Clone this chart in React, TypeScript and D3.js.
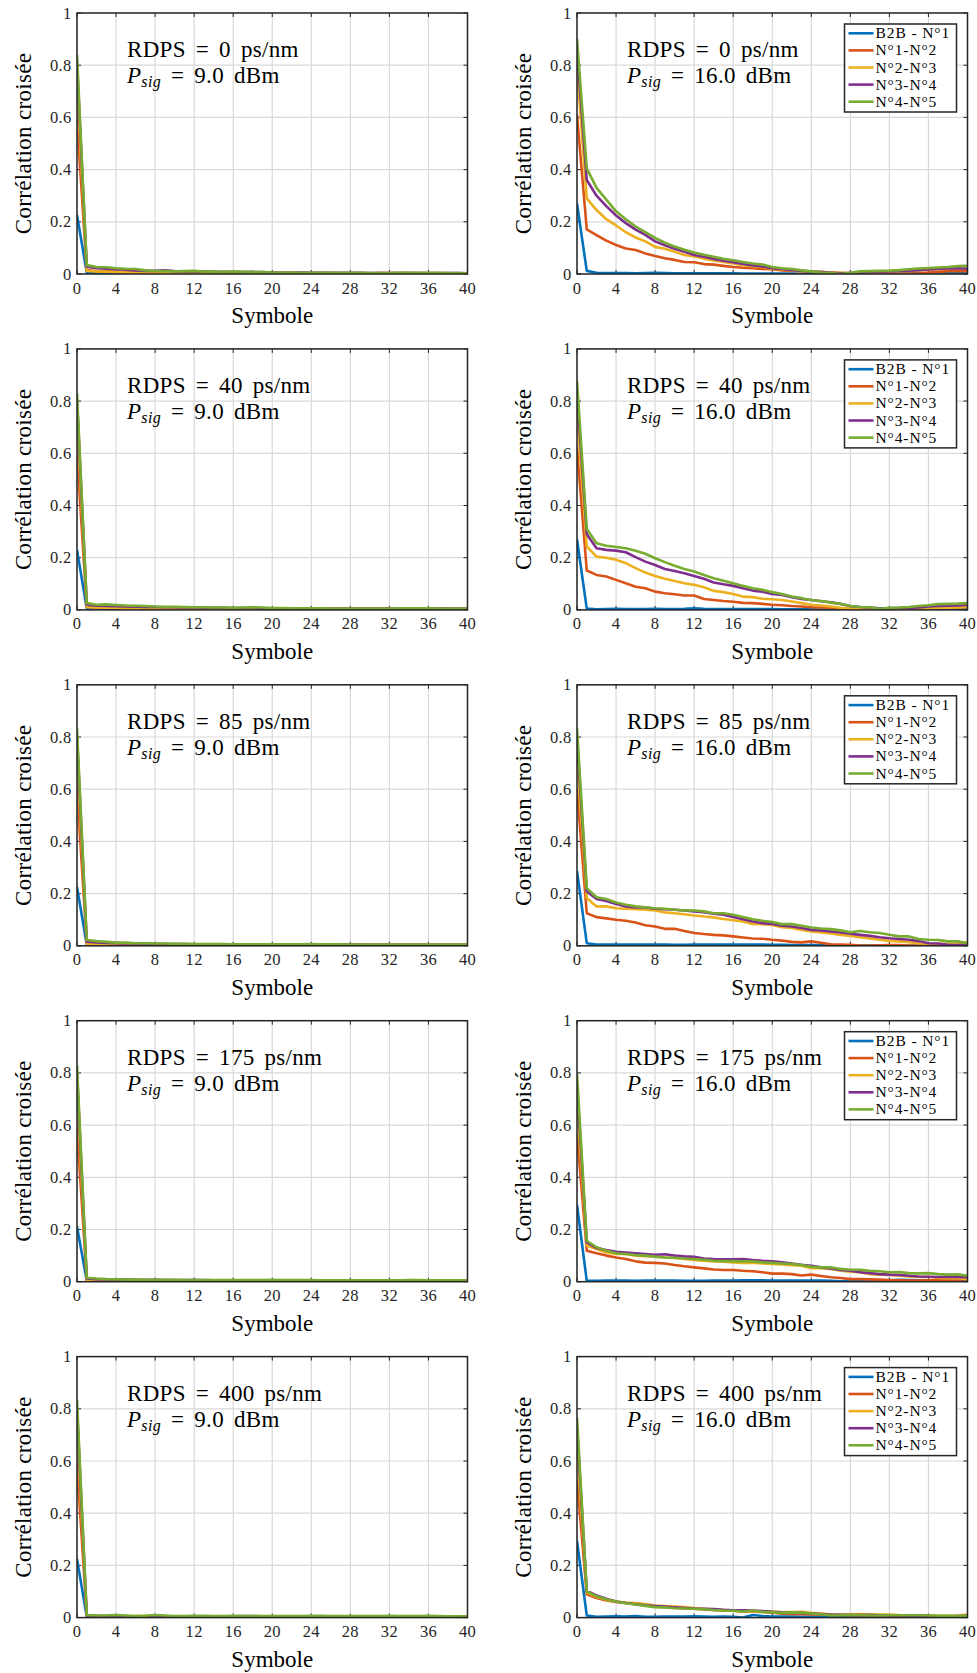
import React from "react";
import * as d3 from "d3";

// ---- categories / ticks ----
const symbols: number[] = d3.range(0, 41);
const xTicks = [0, 4, 8, 12, 16, 20, 24, 28, 32, 36, 40];
const yTicks = [0, 0.2, 0.4, 0.6, 0.8, 1];
const yTickLabels = ["0", "0.2", "0.4", "0.6", "0.8", "1"];
const rdpsValues = [0, 40, 85, 175, 400];
const psigValues = ["9.0", "16.0"];
const seriesNames = ["B2B - N°1", "N°1-N°2", "N°2-N°3", "N°3-N°4", "N°4-N°5"];
const seriesColors = ["#0072BD", "#D95319", "#EDB120", "#7E2F8E", "#77AC30"];

// ---- cross-correlation values (x1000), series order: B2B-N1, N1-N2, N2-N3, N3-N4, N4-N5 ----
// RDPS = 0 ps/nm, Psig = 9.0 dBm
const corr_0_9 = [
  [226,5,4,3,3,2,2,2,2,3,2,2,2,2,2,2,2,2,2,2,3,3,3,3,2,2,2,2,2,2,1,1,1,1,1,1,1,1,1,1,1],
  [590,15,10,10,9,7,6,6,5,5,4,3,4,4,4,4,3,3,3,3,3,3,3,4,4,4,4,3,3,3,3,4,4,4,4,3,3,3,3,3,3],
  [737,12,10,9,7,6,5,5,6,5,4,4,4,4,5,6,7,5,4,3,3,3,3,3,3,3,3,3,2,2,2,2,2,3,3,3,3,3,3,3,2],
  [810,28,22,20,18,16,14,12,12,14,11,10,10,9,8,8,8,7,8,7,6,6,6,6,5,5,5,5,5,5,4,4,4,4,4,4,4,4,4,4,3],
  [839,34,27,26,22,20,19,14,12,11,10,11,12,9,9,8,9,8,7,7,6,6,6,5,5,5,5,5,5,5,4,4,4,5,5,5,5,5,4,4,3],
];
// RDPS = 0 ps/nm, Psig = 16.0 dBm
const corr_0_16 = [
  [270,12,5,4,4,4,3,4,5,4,3,3,3,3,3,3,3,2,2,2,2,2,2,1,1,1,0,0,1,1,2,2,2,2,3,3,3,3,3,3,3],
  [610,171,149,128,111,98,92,79,69,60,54,46,45,38,36,31,27,24,22,19,18,14,12,11,9,8,6,4,1,0,1,0,0,0,2,3,6,8,11,12,11],
  [788,290,245,210,186,160,140,125,104,97,85,73,67,59,52,46,40,34,30,27,20,17,14,11,9,7,6,5,4,5,6,7,8,10,12,14,16,18,20,21,20],
  [860,360,300,260,224,195,170,150,125,110,97,85,73,66,58,51,45,38,33,29,22,19,15,12,9,7,5,3,4,5,7,9,10,11,13,15,17,19,21,22,20],
  [900,405,330,285,240,210,182,160,138,120,105,93,82,74,66,58,53,46,40,36,27,22,19,14,10,6,4,0,5,10,11,12,13,15,18,21,23,25,27,30,31],
];
// RDPS = 40 ps/nm, Psig = 9.0 dBm
const corr_40_9 = [
  [230,5,3,3,3,2,2,2,2,2,2,2,2,2,2,2,2,2,2,2,2,2,2,2,2,2,2,2,3,3,3,3,3,3,3,4,5,5,4,3,3],
  [600,12,8,8,7,6,6,5,5,4,4,4,4,4,4,4,3,3,3,3,3,3,3,3,3,3,3,4,4,3,3,3,3,3,3,3,3,3,3,3,3],
  [740,10,9,8,7,6,6,6,5,5,5,5,5,4,4,4,4,4,4,4,3,3,3,3,3,3,3,3,3,3,3,3,3,3,3,3,3,3,3,3,3],
  [805,20,16,15,14,13,12,11,11,10,10,9,9,8,8,8,7,7,7,6,6,6,6,5,5,5,5,5,5,5,5,5,5,5,5,5,5,5,5,5,4],
  [830,26,20,21,19,17,16,15,13,12,12,11,10,10,9,9,8,9,10,9,7,7,6,6,6,6,5,5,5,5,5,5,5,6,6,6,6,5,5,5,4],
];
// RDPS = 40 ps/nm, Psig = 16.0 dBm
const corr_40_16 = [
  [270,5,2,3,4,3,3,3,4,3,3,4,6,4,3,3,3,3,3,3,3,2,2,2,2,1,1,1,1,2,3,4,5,3,2,2,3,2,3,4,5],
  [623,151,134,128,115,102,89,83,70,64,60,55,55,42,38,34,31,27,26,23,20,18,15,13,10,9,8,5,4,3,2,2,3,4,5,6,8,8,9,9,10],
  [757,243,204,200,192,179,160,143,130,119,111,102,96,87,73,68,61,51,49,43,41,38,32,26,20,17,13,8,4,3,2,1,2,3,4,5,6,7,8,9,11],
  [834,290,236,230,227,221,202,185,172,157,149,140,130,119,105,98,92,83,74,70,61,57,49,42,38,33,29,23,15,11,9,6,6,7,7,9,13,15,16,17,19],
  [877,310,255,246,241,236,227,215,198,183,169,157,147,134,121,112,102,92,83,77,68,61,51,45,38,34,28,23,15,11,10,4,8,9,11,15,18,22,23,24,26],
];
// RDPS = 85 ps/nm, Psig = 9.0 dBm
const corr_85_9 = [
  [225,4,2,2,2,2,2,3,2,2,2,2,2,2,2,2,2,2,3,2,2,2,2,2,2,2,2,2,2,2,2,2,2,2,2,2,2,2,2,2,2],
  [600,10,6,5,5,4,4,4,4,4,3,3,3,3,3,3,3,3,3,3,3,3,3,3,3,3,3,3,3,3,3,3,3,3,3,3,3,3,3,3,3],
  [735,8,6,5,5,5,4,4,4,4,4,4,3,3,3,3,3,3,3,3,3,3,3,3,3,3,3,3,3,3,3,3,3,3,3,3,3,3,3,3,3],
  [800,16,13,11,10,9,9,8,8,7,7,7,6,6,6,6,5,5,5,5,5,5,5,5,6,5,5,5,5,5,4,4,4,4,4,4,4,4,4,4,4],
  [832,22,18,15,12,12,10,10,9,9,8,8,7,7,7,7,6,6,6,6,6,6,6,6,7,6,6,6,5,5,5,5,5,5,5,5,5,5,5,5,5],
];
// RDPS = 85 ps/nm, Psig = 16.0 dBm
const corr_85_16 = [
  [287,10,5,5,5,5,5,5,5,5,4,4,5,5,5,5,5,5,5,5,4,4,3,3,3,3,2,2,1,1,1,1,1,1,0,0,0,0,1,1,1],
  [600,125,110,105,100,96,89,79,74,65,65,57,49,45,42,40,36,32,28,27,23,20,15,13,17,12,6,5,4,1,1,2,3,3,1,1,2,3,3,4,8],
  [719,183,151,151,144,142,140,138,135,128,125,121,116,112,109,103,98,93,84,83,80,71,68,61,55,51,47,42,38,33,28,23,19,17,14,10,8,8,7,8,14],
  [796,208,179,172,160,151,147,147,142,140,138,135,132,129,123,119,110,102,93,87,84,77,74,68,61,59,55,51,46,42,38,33,29,26,23,18,10,9,4,3,5],
  [834,221,186,179,166,157,151,148,144,142,138,135,135,132,125,125,119,110,102,96,91,83,83,77,70,66,64,59,52,57,52,49,42,36,36,26,23,22,17,17,10],
];
// RDPS = 175 ps/nm, Psig = 9.0 dBm
const corr_175_9 = [
  [212,3,2,2,2,2,2,2,2,2,2,2,2,2,2,2,2,2,2,3,2,2,2,2,2,2,2,2,2,2,2,2,2,2,2,2,2,2,2,2,2],
  [590,8,6,5,4,4,4,4,4,3,3,3,3,3,3,3,3,3,3,3,3,3,3,3,3,3,3,3,3,3,3,3,3,3,3,3,3,3,3,3,3],
  [735,6,5,5,4,4,4,4,4,4,3,3,3,3,3,3,3,3,3,3,3,3,3,3,3,3,3,3,3,3,3,3,3,3,3,3,3,3,3,3,3],
  [800,12,10,9,8,8,7,7,7,6,6,6,6,6,5,5,5,5,5,5,5,5,5,5,5,5,5,5,4,4,4,4,4,4,4,4,4,5,5,4,4],
  [830,15,12,10,9,8,8,7,7,7,7,6,6,6,6,6,6,6,6,6,7,6,6,6,6,5,5,5,5,5,5,5,5,5,6,6,5,5,5,5,5],
];
// RDPS = 175 ps/nm, Psig = 16.0 dBm
const corr_175_16 = [
  [295,3,3,4,4,4,3,4,4,4,4,3,3,3,4,4,4,5,5,5,4,4,4,4,4,4,3,2,2,2,2,3,5,7,6,5,3,2,2,3,3],
  [566,119,109,100,93,87,78,73,72,70,64,59,55,51,47,45,45,42,40,36,31,31,29,24,27,22,17,14,10,10,9,8,6,5,4,4,5,6,8,8,10],
  [687,138,125,112,106,106,100,98,96,93,91,87,83,80,78,77,74,72,73,70,68,66,63,61,52,52,49,42,38,36,29,27,26,23,20,18,19,14,13,13,10],
  [757,151,129,121,115,112,109,106,103,105,100,97,95,89,87,86,86,87,83,80,78,74,70,65,61,55,51,45,42,36,33,29,27,26,23,20,19,18,19,18,17],
  [796,157,132,119,109,106,102,100,96,93,92,89,87,84,80,79,79,78,78,74,72,70,68,64,57,55,55,49,46,46,42,40,36,37,33,32,33,29,27,28,23],
];
// RDPS = 400 ps/nm, Psig = 9.0 dBm
const corr_400_9 = [
  [225,3,2,3,2,2,2,3,2,2,2,2,2,2,3,4,3,2,2,2,2,2,2,2,2,2,2,2,2,1,1,2,2,2,2,2,2,2,2,2,2],
  [590,6,5,5,4,4,4,4,3,3,3,3,2,2,3,3,3,3,3,3,3,3,3,3,3,3,3,3,3,3,3,3,3,3,3,3,3,3,3,3,3],
  [730,6,5,5,5,4,6,7,5,4,4,3,3,3,3,3,3,3,3,3,3,3,3,3,3,3,3,3,3,3,3,3,3,3,3,3,3,3,3,3,3],
  [800,8,7,6,8,6,5,5,5,5,4,4,4,4,4,4,5,6,6,5,4,4,4,4,4,4,4,4,4,4,4,4,4,4,4,4,4,4,4,4,4],
  [835,10,8,8,10,8,6,7,10,8,6,6,7,7,6,6,7,6,6,6,6,6,6,6,7,7,6,6,6,6,6,6,7,6,6,6,7,6,5,5,5],
];
// RDPS = 400 ps/nm, Psig = 16.0 dBm
const corr_400_16 = [
  [294,8,3,4,5,4,6,3,3,4,4,4,5,4,3,4,3,0,10,6,4,4,4,3,3,3,2,2,3,3,3,2,2,3,3,3,4,3,2,2,2],
  [530,89,75,66,60,56,52,47,42,41,38,36,34,31,29,27,26,24,23,22,19,15,14,13,12,12,11,10,9,9,9,9,8,8,7,6,5,5,4,3,4],
  [651,96,80,68,62,58,56,52,46,44,42,40,37,34,31,29,27,25,24,24,23,20,21,22,18,16,13,12,13,14,13,12,12,10,9,8,8,7,7,8,12],
  [734,102,85,72,62,56,51,47,44,42,39,37,35,34,33,30,28,28,27,25,22,20,19,18,16,14,11,11,10,10,10,9,9,8,7,7,6,5,5,6,6],
  [766,100,82,70,62,55,50,45,40,39,36,35,34,32,29,27,26,23,27,22,20,18,20,19,16,13,8,9,10,9,8,8,9,9,9,9,8,7,7,6,7],
];

const panelData = [
  [corr_0_9, corr_0_16],
  [corr_40_9, corr_40_16],
  [corr_85_9, corr_85_16],
  [corr_175_9, corr_175_16],
  [corr_400_9, corr_400_16],
];

// ---- layout ----
const FONT = "Liberation Serif";
const COL_LEFT = [77, 577];
const PLOT_W = 390.5;
const ROW_TOP0 = 13;
const ROW_STEP = 335.9;
const PLOT_H = 261;
const AXIS_COLOR = "#262626";
const GRID_COLOR = "#d9d9d9";
const LINE_W = 2.6;
const TICK_LEN = 4;

type PanelProps = {
  id: string;
  left: number;
  top: number;
  rdps: number;
  psig: string;
  data: number[][];
  showLegend: boolean;
};

function Panel({ id, left, top, rdps, psig, data, showLegend }: PanelProps) {
  const x = d3.scaleLinear().domain([0, 40]).range([left, left + PLOT_W]);
  const y = d3.scaleLinear().domain([0, 1]).range([top + PLOT_H, top]);
  const line = d3
    .line<number>()
    .x((_, i) => x(symbols[i]))
    .y((v) => y(v / 1000));
  const right = left + PLOT_W;
  const bottom = top + PLOT_H;

  const legW = 112;
  const legH = 88;
  const legX = right - 11 - legW;
  const legY = top + 11;

  return (
    <g>
      <defs>
        <clipPath id={id}>
          <rect x={left} y={top} width={PLOT_W} height={PLOT_H} />
        </clipPath>
      </defs>
      <rect x={left} y={top} width={PLOT_W} height={PLOT_H} fill="#fff" />
      {/* grid */}
      {xTicks.map((t) => (
        <line key={"gx" + t} x1={x(t)} x2={x(t)} y1={top} y2={bottom} stroke={GRID_COLOR} strokeWidth={1.2} />
      ))}
      {yTicks.map((t) => (
        <line key={"gy" + t} x1={left} x2={right} y1={y(t)} y2={y(t)} stroke={GRID_COLOR} strokeWidth={1.2} />
      ))}
      {/* ticks */}
      {xTicks.map((t) => (
        <g key={"tx" + t}>
          <line x1={x(t)} x2={x(t)} y1={bottom} y2={bottom - TICK_LEN} stroke={AXIS_COLOR} strokeWidth={1} />
          <line x1={x(t)} x2={x(t)} y1={top} y2={top + TICK_LEN} stroke={AXIS_COLOR} strokeWidth={1} />
        </g>
      ))}
      {yTicks.map((t) => (
        <g key={"ty" + t}>
          <line x1={left} x2={left + TICK_LEN} y1={y(t)} y2={y(t)} stroke={AXIS_COLOR} strokeWidth={1} />
          <line x1={right} x2={right - TICK_LEN} y1={y(t)} y2={y(t)} stroke={AXIS_COLOR} strokeWidth={1} />
        </g>
      ))}
      {/* data lines */}
      <g clipPath={`url(#${id})`}>
        {data.map((s, i) => (
          <path
            key={"s" + i}
            d={line(s) || ""}
            fill="none"
            stroke={seriesColors[i]}
            strokeWidth={LINE_W}
            strokeLinejoin="round"
          />
        ))}
      </g>
      {/* frame */}
      <rect x={left} y={top} width={PLOT_W} height={PLOT_H} fill="none" stroke={AXIS_COLOR} strokeWidth={1.5} />
      {/* tick labels */}
      {xTicks.map((t) => (
        <text
          key={"lx" + t}
          x={x(t)}
          y={bottom + 19.5}
          textAnchor="middle"
          style={{ fontFamily: FONT, fontSize: "16.5px", letterSpacing: "0.3px" }}
          fill={AXIS_COLOR}
        >
          {t}
        </text>
      ))}
      {yTicks.map((t, i) => (
        <text
          key={"ly" + t}
          x={left - 5.5}
          y={y(t) + 5.5}
          textAnchor="end"
          style={{ fontFamily: FONT, fontSize: "16.5px", letterSpacing: "0.3px" }}
          fill={AXIS_COLOR}
        >
          {yTickLabels[i]}
        </text>
      ))}
      {/* axis labels */}
      <text
        x={(left + right) / 2}
        y={bottom + 49}
        textAnchor="middle"
        style={{ fontFamily: FONT, fontSize: "23px" }}
        fill="#000"
      >
        Symbole
      </text>
      <text
        transform={`translate(${left - 46},${(top + bottom) / 2}) rotate(-90)`}
        textAnchor="middle"
        style={{ fontFamily: FONT, fontSize: "23px", letterSpacing: "0.3px" }}
        fill="#000"
      >
        Corrélation croisée
      </text>
      {/* annotation */}
      <text
        x={left + 50}
        y={top + 44}
        style={{ fontFamily: FONT, fontSize: "23px", letterSpacing: "0.3px", wordSpacing: "4px", whiteSpace: "pre" }}
        fill="#000"
      >
        {`RDPS = ${rdps} ps/nm`}
      </text>
      <text
        x={left + 50}
        y={top + 70}
        style={{ fontFamily: FONT, fontSize: "23px", letterSpacing: "0.3px", wordSpacing: "4px", whiteSpace: "pre" }}
        fill="#000"
      >
        <tspan fontStyle="italic">P</tspan>
        <tspan fontStyle="italic" style={{ fontSize: "16px" }} dy={4}>
          sig
        </tspan>
        <tspan dy={-4}>{` = ${psig} dBm`}</tspan>
      </text>
      {/* legend */}
      {showLegend && (
        <g>
          <rect x={legX} y={legY} width={legW} height={legH} fill="#fff" stroke={AXIS_COLOR} strokeWidth={1.5} />
          {seriesNames.map((name, i) => {
            const cy = legY + 9.3 + i * 17.1;
            return (
              <g key={"leg" + i}>
                <line x1={legX + 4} x2={legX + 29} y1={cy} y2={cy} stroke={seriesColors[i]} strokeWidth={LINE_W} />
                <text
                  x={legX + 31}
                  y={cy + 5}
                  style={{ fontFamily: FONT, fontSize: "15.5px", letterSpacing: "0.9px", whiteSpace: "pre" }}
                  fill="#000"
                >
                  {name}
                </text>
              </g>
            );
          })}
        </g>
      )}
    </g>
  );
}

export default function App() {
  return (
    <svg
      width={977}
      height={1673}
      viewBox="0 0 977 1673"
      style={{ position: "absolute", left: 0, top: 0, background: "#fff" }}
    >
      <rect x={0} y={0} width={977} height={1673} fill="#fff" />
      {rdpsValues.map((rdps, r) =>
        psigValues.map((psig, c) => (
          <Panel
            key={`p${r}-${c}`}
            id={`clip-${r}-${c}`}
            left={COL_LEFT[c]}
            top={ROW_TOP0 + r * ROW_STEP}
            rdps={rdps}
            psig={psig}
            data={panelData[r][c]}
            showLegend={c === 1}
          />
        ))
      )}
    </svg>
  );
}
